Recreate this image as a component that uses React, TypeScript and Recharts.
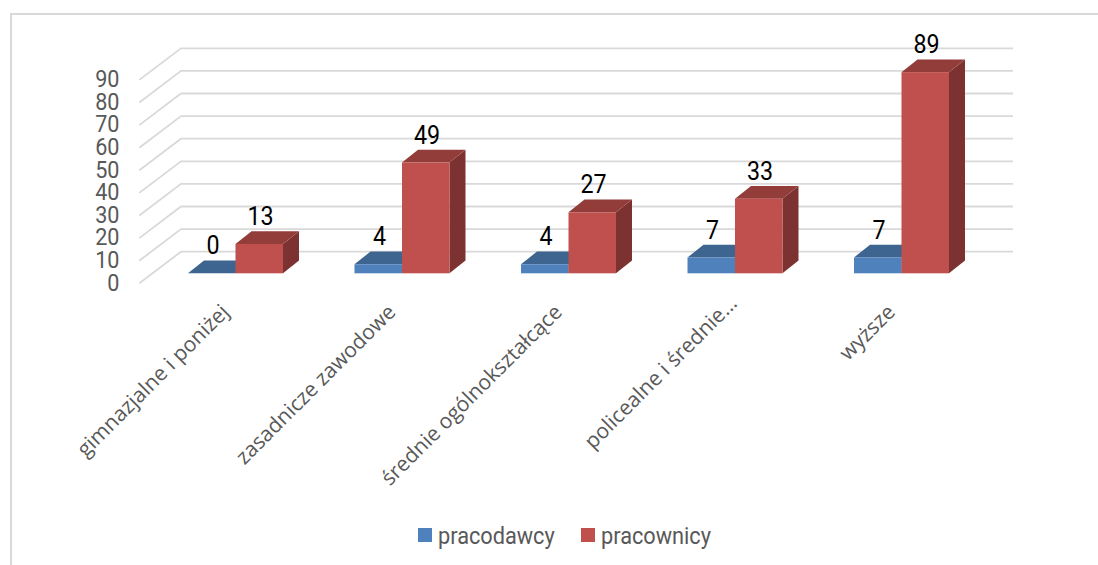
import React from 'react';
import { BarChart, Bar, XAxis, YAxis, CartesianGrid, Legend, LabelList } from 'recharts';

const categories = ['gimnazjalne i poniżej', 'zasadnicze zawodowe', 'średnie ogólnokształcące', 'policealne i średnie…', 'wyższe'];
const pracodawcy = [0, 4, 4, 7, 7];
const pracownicy = [13, 49, 27, 33, 89];
const yTicks = [0, 10, 20, 30, 40, 50, 60, 70, 80, 90];

const rows = categories.map((name, i) => ({ name, pracodawcy: pracodawcy[i], pracownicy: pracownicy[i] }));

const DX = 16;
const DY = 12.7;
const TEXT = '#595959';

const Box3D = (colors: { front: string; top: string; side: string }) => (p: any) => {
  const { x, y, width, height } = p;
  const r = x + width;
  const b = y + height;
  return (
    <g>
      <polygon points={`${r},${y} ${r + DX},${y - DY} ${r + DX},${b - DY} ${r},${b}`} fill={colors.side} />
      <polygon points={`${x},${y} ${x + DX},${y - DY} ${r + DX},${y - DY} ${r},${y}`} fill={colors.top} />
      {height > 0 && <rect x={x} y={y} width={width} height={height} fill={colors.front} />}
    </g>
  );
};

const ValueLabel = (p: any) => (
  <text
    transform={`translate(${p.x + p.width / 2 + 1.2} ${p.y - DY - 14.5}) scale(0.93 1)`}
    textAnchor="middle"
    dominantBaseline="central"
    fontFamily="Roboto"
    fontSize={25}
    fill="#000"
  >
    {p.value}
  </text>
);

const GridLine = (p: any) => {
  const { x1, x2, y1 } = p;
  return (
    <g key={p.key} stroke="#d9d9d9" strokeWidth={1.8} fill="none">
      <polyline points={`${x1 - 12.7},${y1 + 10} ${x1 + 29},${y1 - 21.6} ${x2 + 28.5},${y1 - 21.6}`} />
    </g>
  );
};

const YTick = (p: any) => (
  <text
    transform={`translate(119.5 ${p.y + 9.5}) scale(0.9 1)`}
    textAnchor="end"
    dominantBaseline="central"
    fontFamily="Roboto"
    fontSize={24}
    fill={TEXT}
  >
    {p.payload.value}
  </text>
);

const XTick = (p: any) => {
  const shift = String(p.payload.value).endsWith('…') ? 8.5 : 0;
  const tx = p.x - 5 + shift;
  const ty = p.y + 32 - shift;
  return (
    <text
      x={tx}
      y={ty}
      textAnchor="end"
      transform={`rotate(-45 ${tx} ${ty})`}
      fontFamily="Open Sans"
      fontSize={21}
      fill={TEXT}
    >
      {p.payload.value}
    </text>
  );
};

const LegendBox = ({ payload }: any) => (
  <div style={{ position: 'relative', height: 30 }}>
    {(payload || []).map((e: any, i: number) => (
      <div key={e.value} style={{ position: 'absolute', left: i === 0 ? 418 : 581, top: 0, display: 'flex', alignItems: 'center', height: 30, whiteSpace: 'nowrap' }}>
        <span style={{ width: 14, height: 14, background: e.color, display: 'inline-block', marginRight: 6 }} />
        <span style={{ fontFamily: 'Roboto', fontSize: 24, color: TEXT, display: 'inline-block', transform: 'scaleX(0.905)', transformOrigin: 'left center', position: 'relative', top: 1 }}>{e.value}</span>
      </div>
    ))}
  </div>
);

export default function App() {
  return (
    <div style={{ position: 'absolute', left: 0, top: 0, width: 1098, height: 565, background: '#fff', overflow: 'hidden' }}>
      <div style={{ position: 'absolute', left: 9.5, top: 12.5, width: 1089, height: 560, borderLeft: '2px solid #d9d9d9', borderTop: '2px solid #d9d9d9', boxSizing: 'border-box' }} />
      <BarChart
        width={1098}
        height={565}
        data={rows}
        barSize={47.5}
        barGap={0}
        margin={{ top: 69.9, right: 113.5, bottom: 0, left: 100 }}
        style={{ position: 'absolute', left: 0, top: 0 }}
      >
        <CartesianGrid horizontal={GridLine as any} vertical={false} />
        <XAxis dataKey="name" interval={0} axisLine={false} tickLine={false} height={291.7} tick={XTick as any} />
        <YAxis width={52} domain={[0, 90]} ticks={yTicks} interval={0} axisLine={false} tickLine={false} tick={YTick as any} />
        <Legend
          layout="horizontal"
          align="center"
          verticalAlign="middle"
          content={LegendBox as any}
          wrapperStyle={{ left: 0, top: 520, width: 1098 }}
        />
        <Bar dataKey="pracodawcy" name="pracodawcy" fill="#4F81BD" isAnimationActive={false} shape={Box3D({ front: '#4F81BD', top: '#3E658F', side: '#345478' }) as any}>
          <LabelList dataKey="pracodawcy" content={ValueLabel as any} />
        </Bar>
        <Bar dataKey="pracownicy" name="pracownicy" fill="#C0504D" isAnimationActive={false} shape={Box3D({ front: '#C0504D', top: '#933D3B', side: '#7C3231' }) as any}>
          <LabelList dataKey="pracownicy" content={ValueLabel as any} />
        </Bar>
      </BarChart>
    </div>
  );
}
